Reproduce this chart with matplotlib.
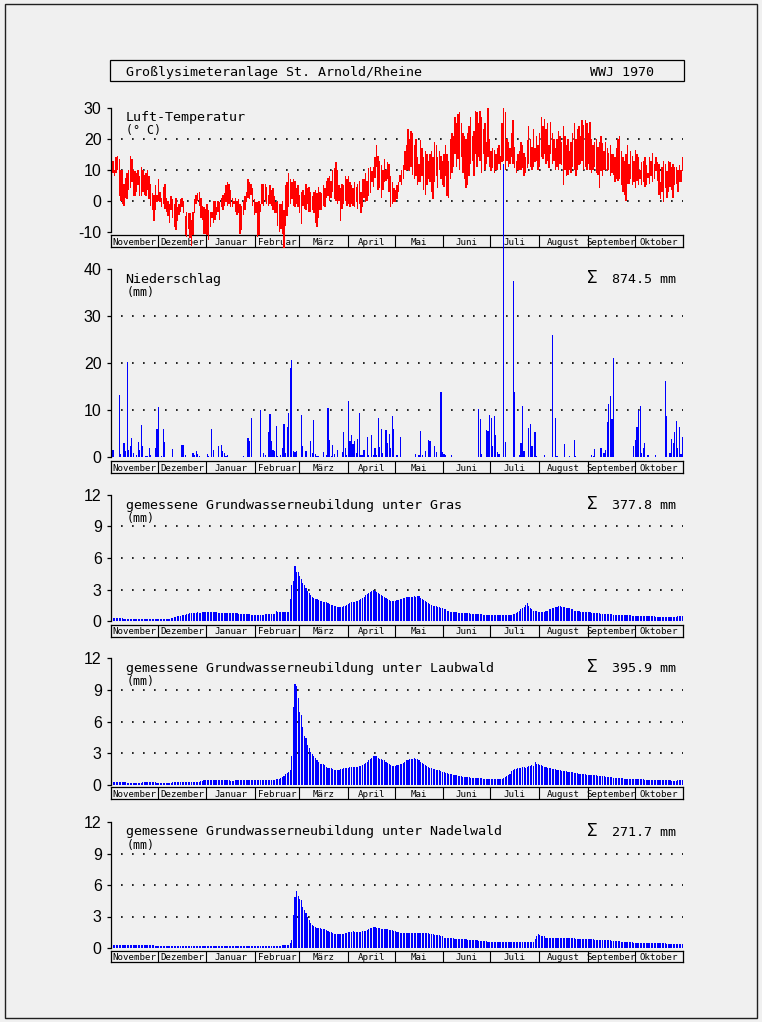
import matplotlib
matplotlib.use("Agg")
import matplotlib.pyplot as plt
from matplotlib.patches import Rectangle
from matplotlib import font_manager as fm
import numpy as np

# ---------------- data ----------------
months = ['November', 'Dezember', 'Januar', 'Februar', 'März', 'April',
          'Mai', 'Juni', 'Juli', 'August', 'September', 'Oktober']
month_days = [30, 31, 31, 28, 31, 30, 31, 30, 31, 31, 30, 31]

# daily max / min air temperature (deg C), 1 Nov 1969 .. 31 Oct 1970
tmax = [
    12.5, 13, 10, 14, 14.5, 13.5, 10, 10, 5.5, 7.5, 9, 10, 14.5, 13.5, 10, 9.5, 9, 10, 8, 11, 10, 8.5, 9, 10, 8, 5.5, 2.5, 2, 5, 2,
    7, 3, 1, 4.5, 5.5, 1, 0, -1, 1.5, 0.5, -1, 1, -2, -1, 0.5, 1, 0, -5, -3.5, -4, -4, -6, -3.5, 0.5, 2, 2.5, 3, 1, -1.5, -2, -2.5,
    -1, -3, -3.5, -3.5, 0, 0, -2, 0, -0.5, 1, 2, 2.5, 5, 6, 5.5, 3.5, 1, 0, 1, 0, 0.5, -1, -1.5, 0, 1.5, 3, 7, 6, 5.5, 4, 0.5,
    -0.5, -0.5, 0, -1, 5.5, 5.5, 5.5, 4.5, 2, 5, 3.5, 4, 1.5, -0.5, 0, -1, -1, 0, -3, 5, 6, 9, 7, 6, 7, 6.5, 4, 5,
    2, 3, 3.5, 2, 5.5, 4, 4.5, 3, 1.5, 3, 3.5, 2.5, 4.5, 3, 2.5, 5, 4, 6.5, 7.5, 8, 6.5, 10, 10.5, 12.5, 10, 5, 4, 5.5, 5, 8, 7,
    8, 6, 5, 4, 6, 4.5, 5.5, 6.5, 3, 7, 7, 9, 6.5, 10.5, 11, 9.5, 11, 14, 18, 14.5, 13, 11.5, 10, 13.5, 10, 12.5, 12, 8, 6, 4,
    3.5, 5, 6, 8.5, 10, 11.5, 16, 18, 23, 20, 22.5, 22, 18, 20, 14, 12, 19.5, 17, 14, 16, 15, 13, 15, 16, 14, 19, 18, 14, 16, 14.5, 13,
    15, 18, 15, 13, 20, 22, 21, 27, 25, 28, 28.5, 25, 22, 21, 20, 22, 24, 27, 21, 22.5, 29, 28.5, 25, 29, 27, 23, 25, 19, 30, 20,
    16, 17, 16.5, 15, 17, 18, 14.5, 25, 30, 28.5, 20, 19, 17, 22, 26, 17.5, 13, 15, 16, 19, 18, 15.5, 14, 19.5, 24, 20, 17.5, 23, 17, 21, 18,
    22, 27, 24, 26.5, 23, 25, 18, 25.5, 22, 20, 17, 20, 22.5, 21, 19, 24, 21, 18, 20, 16, 19, 22, 25, 20, 23, 24, 21, 26, 24.5, 26, 25,
    22, 25.5, 20, 18, 19, 20, 17.5, 19, 21, 18.5, 16, 19, 17, 15.5, 18, 15, 15, 14, 17, 20, 21, 16, 14, 13, 15, 18, 12, 16, 14.5, 13,
    16.5, 15, 14, 10, 12.5, 13, 14, 11.5, 9, 14, 13, 15.5, 12, 14, 12.5, 12, 6, 11, 13, 12, 9.5, 13, 12.5, 11, 12, 11, 11, 10, 11.5, 10, 14,
]
tmin = [
    8.5, 9, 8, 9, 10, 1.5, 0, -1, -1.5, 1, 0.5, 3.5, 4, 6, 1.5, 1.5, 3, 5, 1.5, 1.5, 3, 2, 1.5, 3.5, 0.5, -1.5, -3, -6.5, -3, -0.5,
    0, -0.5, -2, -1, -2.5, -3.5, -5, -7, -3, -5.5, -8.5, -9.5, -6.5, -4.5, -3.5, -2, -4, -11, -11.5, -9, -12, -14.5, -11, -4, -1, 0, -1.5, -5.5, -6, -10.5, -10.5,
    -11, -12.5, -8.5, -5.5, -7, -6, -4.5, -3.5, -6, -2, -3, -1.5, -0.5, -1.5, -1, -2, -2, -1, -3.5, -4.5, -4, -10.5, -9.5, -4.5, -3, -0.5, 1, 0.5, 2, -1.5, -4.5,
    -4, -11.5, -11, -3.5, -1, -1.5, 0, -1, -1.5, -1, -1.5, -3, -4, -4, -8, -10, -9, -10.5, -15, -8, -5, -2, -1, 0.5, -1.5, -2, -1, -2,
    -4, -7.5, -1.5, -2.5, -3, -1, -3.5, -3.5, -3, -4, -7, -8.5, -5.5, -3, -3, -1.5, -2, 1, 1.5, 0, 1, 3, 0.5, 0, -1, 0, -6.5, -2.5, -1, 0, -1.5,
    -1, -2, -1, -1.5, -2, -0.5, -2.5, -1, -4, -2, 1, -0.5, 0, 1.5, 2.5, 6, 4.5, 7.5, 11, 3.5, 4, 1, 3.5, 6, 6.5, 7, 3, -2, -1, -0.5,
    -0.5, 0.5, 3, 6, 5, 7, 10, 9.5, 10, 9.5, 11, 8.5, 7, 8, 5, 6, 6, 8, 3.5, 2, 5, 7, 6, 3, 0.5, 6, 8, 4, 10, 7, 5,
    4.5, 8, 1.5, 1, 7, 9, 11, 15, 11, 13.5, 10, 14, 9, 7, 4, 5, 8, 12, 13, 8, 15, 11, 14, 13, 9, 15, 10, 12, 14, 11,
    9.5, 10.5, 9, 10, 10, 12, 10, 12.5, 13, 10, 13, 11, 12, 14, 12, 10.5, 9, 10, 10, 10, 10.5, 8, 9, 10.5, 12, 11, 10, 11, 12.5, 13, 10,
    11, 14, 13.5, 15, 12, 13, 10.5, 15, 12, 13, 10, 11, 10, 12, 11.5, 5, 10, 8, 8.5, 10, 9, 11, 10, 8, 10, 11.5, 12, 13, 10, 11, 10,
    12, 10, 9, 10, 11, 9, 8.5, 4, 9.5, 8, 10, 10, 9.5, 10, 8, 9, 8.5, 6, 7, 6.5, 7, 5, 3, 2, 0, 5.5, 5.5, 7, 5, 6,
    4, 6.5, 5, 7, 5, 6, 4.5, 5, 7.5, 5.5, 8, 6, 7, 9.5, 6.5, 2, 0.5, 3, -0.5, 4, 1, 3, 4.5, 3.5, 1, 5, 5.5, 3, 6, 6, 9.5,
]

# precipitation: day index (0 = 1 Nov) and amount (mm), rain days only
precip_day = [
    1, 5, 6, 8, 9, 10, 11, 12, 13, 14, 16, 17, 18, 19, 20, 22, 23, 24, 25, 28, 29,
    30, 32, 33, 34, 39, 45, 46, 47, 52, 53, 54, 55, 56,
    61, 62, 64, 65, 68, 70, 71, 72, 73, 74, 84, 87, 88, 89,
    95, 97, 98, 100, 101, 102, 103, 104, 105, 106, 108, 109, 110, 111, 112, 113, 114, 115, 116, 117, 118,
    121, 122, 124, 127, 128, 129, 130, 131, 132, 135, 137, 138, 139, 140, 141, 142, 144, 147, 148, 149, 150,
    151, 152, 153, 154, 155, 156, 157, 158, 159, 160, 161, 163, 164, 166, 167, 168, 169, 170, 171, 172, 173, 175, 176, 177, 178, 179, 180,
    182, 184, 194, 196, 197, 198, 200, 202, 203, 206, 207, 210, 211,
    212, 213, 217, 234, 235, 236, 239, 240, 241,
    242, 243, 244, 245, 246, 247, 250, 251, 256, 257, 260, 261, 262, 263, 266, 267, 268, 270, 271,
    276, 281, 283, 284, 289, 292, 295, 296,
    306, 307, 308, 312, 314, 315, 316, 317, 318, 319, 320, 333,
    334, 335, 336, 337, 338, 339, 340, 342, 347, 353, 354, 356, 357, 358, 359, 360, 361, 362, 363, 364,
]
precip_mm = [
    1.6, 13.3, 0.7, 3.0, 1.3, 20.3, 1.6, 2.3, 4.0, 0.9, 0.4, 3.3, 1.6, 6.9, 2.4, 0.3, 0.2, 2.0, 0.5, 1.9, 6.0,
    10.7, 0.3, 6.0, 3.3, 1.7, 2.6, 2.6, 0.5, 1.0, 0.5, 1.3, 0.6, 0.35,
    0.7, 0.2, 6.0, 1.6, 2.4, 2.6, 1.4, 1.0, 0.35, 0.4, 0.3, 4.0, 3.5, 8.4,
    10.0, 0.9, 0.5, 5.4, 9.2, 3.5, 1.6, 1.4, 6.7, 0.3, 0.5, 2.0, 7.1, 0.9, 6.5, 9.5, 19.1, 20.7, 1.3, 1.1, 1.3,
    8.9, 2.4, 1.3, 3.5, 1.0, 7.9, 0.6, 0.35, 0.3, 1.1, 0.5, 10.5, 3.7, 0.3, 2.6, 0.7, 1.6, 1.1, 5.4, 2.0, 0.5,
    12.0, 3.5, 4.8, 2.8, 3.5, 1.0, 3.9, 9.4, 0.5, 0.5, 1.6, 4.3, 0.5, 4.8, 0.5, 2.0, 0.5, 8.4, 2.1, 6.0, 1.0, 5.8, 3.1, 5.0, 1.9, 8.8, 6.0,
    0.5, 4.3, 0.7, 0.5, 5.6, 0.5, 1.3, 3.7, 3.5, 2.4, 1.1, 13.9, 1.1,
    0.8, 0.4, 0.5, 10.3, 8.2, 0.7, 5.8, 5.6, 9.0,
    8.3, 2.4, 8.8, 4.8, 1.2, 0.6, 62.4, 3.3, 37.5, 13.9, 0.5, 3.0, 10.9, 1.3, 6.2, 7.1, 2.3, 5.4, 0.3,
    0.5, 26.0, 8.4, 0.3, 2.8, 0.3, 3.7, 0.2,
    0.5, 0.3, 1.8, 2.0, 1.0, 1.6, 7.5, 11.3, 13.0, 8.2, 21.1, 2.4,
    3.7, 6.5, 10.1, 10.9, 1.0, 2.0, 3.0, 0.5, 0.5, 16.2, 8.8, 0.9, 3.9, 3.0, 5.4, 7.7, 2.0, 6.5, 0.7, 4.3,
]

# measured daily groundwater recharge (mm)
gw_gras = [
    0.3, 0.3, 0.3, 0.3, 0.3, 0.3, 0.3, 0.3, 0.2, 0.2, 0.2, 0.2, 0.2, 0.2, 0.2, 0.2, 0.2, 0.2, 0.2, 0.2, 0.2, 0.2, 0.2, 0.2, 0.2, 0.2, 0.2, 0.2, 0.2, 0.2,
    0.2, 0.2, 0.2, 0.2, 0.2, 0.2, 0.2, 0.2, 0.25, 0.3, 0.35, 0.4, 0.45, 0.5, 0.5, 0.55, 0.6, 0.6, 0.65, 0.7, 0.75, 0.75, 0.8, 0.8, 0.8, 0.85, 0.8, 0.8, 0.85, 0.85, 0.9,
    0.9, 0.9, 0.9, 0.9, 0.9, 0.85, 0.85, 0.8, 0.8, 0.8, 0.8, 0.8, 0.8, 0.8, 0.8, 0.8, 0.75, 0.75, 0.75, 0.75, 0.7, 0.7, 0.7, 0.7, 0.7, 0.7, 0.65, 0.65, 0.6, 0.6, 0.6,
    0.6, 0.6, 0.6, 0.6, 0.6, 0.6, 0.65, 0.65, 0.65, 0.7, 0.7, 0.7, 0.7, 1.0, 0.9, 0.9, 0.85, 0.85, 0.85, 0.9, 0.9, 0.9, 2.1, 3.4, 3.8, 5.2, 4.7, 4.7,
    4.3, 4.0, 3.6, 3.4, 3.1, 2.9, 2.7, 2.5, 2.3, 2.2, 2.1, 2.1, 2.0, 1.9, 1.9, 1.8, 1.8, 1.8, 1.7, 1.6, 1.5, 1.5, 1.4, 1.4, 1.3, 1.3, 1.3, 1.3, 1.4, 1.4, 1.5,
    1.6, 1.7, 1.8, 1.8, 1.8, 1.9, 1.9, 2.0, 2.1, 2.2, 2.3, 2.5, 2.6, 2.7, 2.8, 2.9, 3.0, 2.9, 2.8, 2.7, 2.6, 2.5, 2.4, 2.3, 2.2, 2.1, 2.0, 1.9, 1.9, 1.9,
    1.9, 2.0, 2.0, 2.1, 2.1, 2.2, 2.2, 2.3, 2.3, 2.3, 2.3, 2.3, 2.4, 2.3, 2.4, 2.4, 2.2, 2.1, 2.0, 1.9, 1.8, 1.7, 1.6, 1.5, 1.4, 1.4, 1.4, 1.3, 1.3, 1.2, 1.2,
    1.1, 1.1, 1.0, 1.0, 0.9, 0.9, 0.9, 0.85, 0.85, 0.8, 0.8, 0.8, 0.8, 0.8, 0.75, 0.75, 0.75, 0.7, 0.7, 0.7, 0.7, 0.7, 0.65, 0.65, 0.65, 0.6, 0.6, 0.6, 0.6, 0.6,
    0.6, 0.6, 0.6, 0.55, 0.55, 0.55, 0.55, 0.6, 0.6, 0.6, 0.6, 0.6, 0.6, 0.6, 0.65, 0.7, 0.8, 0.9, 1.0, 1.1, 1.2, 1.3, 1.5, 1.7, 1.4, 1.2, 1.1, 1.0, 1.0, 1.0, 0.9,
    0.9, 0.9, 0.9, 0.9, 1.0, 1.0, 1.1, 1.1, 1.2, 1.2, 1.3, 1.3, 1.4, 1.4, 1.3, 1.3, 1.3, 1.2, 1.2, 1.2, 1.1, 1.1, 1.0, 1.0, 1.0, 1.0, 0.9, 0.9, 0.9, 0.9, 0.9,
    0.85, 0.85, 0.8, 0.8, 0.8, 0.8, 0.75, 0.75, 0.7, 0.7, 0.7, 0.7, 0.7, 0.65, 0.65, 0.65, 0.6, 0.6, 0.6, 0.6, 0.6, 0.6, 0.6, 0.55, 0.55, 0.55, 0.55, 0.55, 0.5, 0.5,
    0.5, 0.5, 0.5, 0.5, 0.5, 0.5, 0.45, 0.45, 0.45, 0.45, 0.45, 0.45, 0.45, 0.4, 0.4, 0.4, 0.4, 0.4, 0.4, 0.4, 0.4, 0.4, 0.35, 0.35, 0.35, 0.4, 0.4, 0.45, 0.45, 0.45, 0.5,
]
gw_laub = [
    0.25, 0.25, 0.25, 0.25, 0.25, 0.25, 0.25, 0.25, 0.25, 0.25, 0.15, 0.15, 0.15, 0.15, 0.15, 0.15, 0.15, 0.15, 0.15, 0.15, 0.25, 0.25, 0.25, 0.25, 0.25, 0.25, 0.25, 0.25, 0.25, 0.2,
    0.15, 0.15, 0.15, 0.15, 0.15, 0.15, 0.15, 0.15, 0.15, 0.25, 0.25, 0.25, 0.25, 0.25, 0.25, 0.25, 0.3, 0.3, 0.3, 0.3, 0.3, 0.3, 0.3, 0.3, 0.3, 0.3, 0.3, 0.35, 0.35, 0.4, 0.4,
    0.4, 0.45, 0.45, 0.45, 0.45, 0.45, 0.45, 0.45, 0.45, 0.4, 0.4, 0.4, 0.4, 0.4, 0.4, 0.35, 0.35, 0.35, 0.4, 0.4, 0.45, 0.45, 0.45, 0.45, 0.45, 0.45, 0.45, 0.45, 0.45, 0.45, 0.45,
    0.45, 0.45, 0.45, 0.45, 0.45, 0.45, 0.45, 0.45, 0.45, 0.45, 0.45, 0.45, 0.45, 0.5, 0.5, 0.55, 0.6, 0.7, 0.8, 1.0, 1.1, 1.2, 1.4, 2.7, 7.4, 9.6, 9.4, 8.2,
    6.9, 6.6, 5.5, 4.6, 4.4, 3.8, 3.5, 3.1, 2.9, 2.7, 2.5, 2.3, 2.2, 2.0, 2.0, 2.0, 1.9, 1.7, 1.6, 1.6, 1.6, 1.5, 1.4, 1.4, 1.4, 1.4, 1.5, 1.5, 1.6, 1.6, 1.6,
    1.6, 1.7, 1.7, 1.7, 1.7, 1.7, 1.7, 1.8, 1.8, 1.9, 2.0, 2.1, 2.2, 2.3, 2.4, 2.5, 2.7, 2.7, 2.7, 2.5, 2.4, 2.4, 2.3, 2.3, 2.2, 2.1, 2.0, 1.9, 1.8, 1.8,
    1.8, 1.9, 1.9, 2.0, 2.0, 2.1, 2.2, 2.3, 2.3, 2.4, 2.4, 2.4, 2.5, 2.4, 2.4, 2.3, 2.2, 2.1, 2.0, 1.9, 1.8, 1.7, 1.6, 1.6, 1.5, 1.5, 1.4, 1.4, 1.4, 1.3, 1.2,
    1.2, 1.1, 1.1, 1.0, 1.0, 1.0, 0.9, 0.9, 0.9, 0.8, 0.8, 0.8, 0.75, 0.75, 0.7, 0.7, 0.7, 0.65, 0.65, 0.6, 0.6, 0.6, 0.6, 0.6, 0.6, 0.55, 0.55, 0.55, 0.55, 0.55,
    0.55, 0.5, 0.5, 0.5, 0.5, 0.5, 0.5, 0.5, 0.6, 0.7, 0.8, 0.9, 1.0, 1.3, 1.4, 1.5, 1.5, 1.6, 1.6, 1.6, 1.7, 1.7, 1.6, 1.7, 1.8, 1.8, 1.9, 1.8, 2.2, 2.0, 2.0,
    1.9, 1.9, 1.8, 1.7, 1.7, 1.6, 1.6, 1.6, 1.5, 1.5, 1.5, 1.4, 1.4, 1.4, 1.3, 1.3, 1.3, 1.3, 1.2, 1.2, 1.2, 1.2, 1.1, 1.1, 1.1, 1.0, 1.0, 1.0, 1.0, 1.0, 0.95,
    0.95, 0.9, 0.9, 0.9, 0.9, 0.9, 0.85, 0.85, 0.8, 0.8, 0.8, 0.75, 0.75, 0.7, 0.7, 0.7, 0.65, 0.65, 0.65, 0.6, 0.6, 0.6, 0.6, 0.55, 0.55, 0.55, 0.55, 0.55, 0.5, 0.5,
    0.5, 0.5, 0.5, 0.5, 0.5, 0.5, 0.45, 0.45, 0.45, 0.45, 0.45, 0.45, 0.45, 0.45, 0.45, 0.45, 0.45, 0.45, 0.45, 0.45, 0.4, 0.4, 0.4, 0.35, 0.35, 0.35, 0.35, 0.4, 0.4, 0.4, 0.4,
]
gw_nadel = [
    0.25, 0.25, 0.25, 0.25, 0.25, 0.25, 0.25, 0.25, 0.25, 0.25, 0.25, 0.25, 0.25, 0.25, 0.25, 0.25, 0.25, 0.25, 0.25, 0.25, 0.25, 0.25, 0.25, 0.25, 0.25, 0.25, 0.25, 0.25, 0.2, 0.2,
    0.15, 0.15, 0.15, 0.15, 0.15, 0.15, 0.15, 0.15, 0.15, 0.15, 0.15, 0.15, 0.15, 0.15, 0.15, 0.15, 0.15, 0.15, 0.15, 0.15, 0.15, 0.15, 0.15, 0.15, 0.15, 0.15, 0.15, 0.15, 0.15, 0.15, 0.15,
    0.15, 0.15, 0.15, 0.15, 0.15, 0.15, 0.15, 0.15, 0.15, 0.15, 0.15, 0.15, 0.15, 0.15, 0.15, 0.15, 0.15, 0.15, 0.15, 0.15, 0.15, 0.15, 0.15, 0.15, 0.15, 0.15, 0.15, 0.15, 0.15, 0.15, 0.15,
    0.15, 0.15, 0.15, 0.15, 0.15, 0.15, 0.15, 0.15, 0.15, 0.15, 0.15, 0.15, 0.15, 0.15, 0.15, 0.15, 0.15, 0.3, 0.3, 0.3, 0.3, 0.3, 0.5, 0.8, 3.1, 4.9, 5.4, 5.0,
    4.7, 4.6, 3.9, 3.6, 3.3, 3.0, 2.7, 2.4, 2.2, 2.1, 2.0, 1.9, 1.9, 1.9, 1.8, 1.8, 1.8, 1.7, 1.6, 1.5, 1.5, 1.4, 1.3, 1.3, 1.3, 1.3, 1.3, 1.3, 1.3, 1.4, 1.4,
    1.5, 1.5, 1.5, 1.6, 1.5, 1.5, 1.5, 1.5, 1.5, 1.6, 1.6, 1.6, 1.7, 1.8, 1.9, 1.9, 2.0, 2.0, 1.9, 1.9, 1.9, 1.8, 1.8, 1.8, 1.8, 1.8, 1.7, 1.7, 1.7, 1.6,
    1.6, 1.5, 1.5, 1.4, 1.4, 1.4, 1.4, 1.4, 1.4, 1.4, 1.4, 1.4, 1.4, 1.4, 1.4, 1.4, 1.4, 1.4, 1.4, 1.4, 1.4, 1.4, 1.3, 1.3, 1.3, 1.2, 1.2, 1.2, 1.2, 1.1, 1.1,
    1.0, 1.0, 1.0, 1.0, 1.0, 0.95, 0.95, 0.9, 0.9, 0.9, 0.9, 0.9, 0.85, 0.85, 0.85, 0.8, 0.8, 0.8, 0.8, 0.75, 0.75, 0.75, 0.7, 0.7, 0.7, 0.65, 0.65, 0.65, 0.6, 0.6,
    0.6, 0.6, 0.55, 0.55, 0.55, 0.55, 0.55, 0.55, 0.6, 0.6, 0.6, 0.6, 0.6, 0.6, 0.6, 0.6, 0.6, 0.6, 0.6, 0.6, 0.6, 0.6, 0.6, 0.6, 0.6, 0.6, 0.6, 0.6, 0.9, 1.1, 1.3,
    1.2, 1.1, 1.1, 1.1, 1.0, 1.0, 1.0, 1.0, 1.0, 1.0, 1.0, 1.0, 1.0, 1.0, 1.0, 1.0, 1.0, 0.95, 0.95, 0.95, 0.95, 0.95, 0.95, 0.9, 0.9, 0.9, 0.9, 0.9, 0.9, 0.9, 0.85,
    0.85, 0.85, 0.85, 0.85, 0.8, 0.8, 0.8, 0.8, 0.8, 0.8, 0.75, 0.75, 0.75, 0.75, 0.75, 0.7, 0.7, 0.7, 0.7, 0.65, 0.65, 0.6, 0.6, 0.6, 0.6, 0.55, 0.55, 0.55, 0.55, 0.5,
    0.5, 0.5, 0.5, 0.5, 0.5, 0.5, 0.5, 0.5, 0.45, 0.45, 0.45, 0.45, 0.45, 0.45, 0.45, 0.45, 0.45, 0.45, 0.45, 0.45, 0.4, 0.4, 0.4, 0.4, 0.4, 0.4, 0.4, 0.4, 0.4, 0.4, 0.4,
]

sum_labels = ['874.5 mm', '377.8 mm', '395.9 mm', '271.7 mm']
gw_titles = ['gemessene Grundwasserneubildung unter Gras',
             'gemessene Grundwasserneubildung unter Laubwald',
             'gemessene Grundwasserneubildung unter Nadelwald']

# ---------------- figure ----------------
W, H = 762, 1022
BG = '#f0f0f0'
RED = '#ff0000'
BLUE = '#0000ff'
MONO = 'DejaVu Sans Mono'

_installed = {f.name for f in fm.fontManager.ttflist}
NARROW = 'DejaVu Sans'
for _cand in ['Liberation Sans Narrow', 'DejaVu Sans Condensed', 'Liberation Sans']:
    if _cand in _installed:
        NARROW = _cand
        break

fig = plt.figure(figsize=(W / 100, H / 100), dpi=100, facecolor=BG)
X0, X1 = 110.7, 683.3
NDAYS = sum(month_days)


def add_ax(ytop, ybot, z):
    ax = fig.add_axes([X0 / W, 1 - ybot / H, (X1 - X0) / W, (ybot - ytop) / H])
    ax.set_zorder(z)
    ax.patch.set_alpha(0)
    return ax


def ftext(x, y, s, size=9.6, family=MONO, **kw):
    fig.text(x / W, 1 - y / H, s, fontsize=size, family=family, va='baseline', ha='left', **kw)


def month_box(ytop, ybot, z):
    ax = add_ax(ytop, ybot, z)
    ax.set_xlim(0, NDAYS)
    ax.set_ylim(0, 1)
    ax.set_xticks([])
    ax.set_yticks([])
    for s in ax.spines.values():
        s.set_linewidth(0.9)
        s.set_color('black')
    edges = np.cumsum([0] + month_days)
    for e in edges[1:-1]:
        ax.axvline(e, color='black', lw=0.8)
    for i, m in enumerate(months):
        ax.text((edges[i] + edges[i + 1]) / 2, 0.42, m, ha='center', va='center',
                fontsize=6.6, family=MONO)
    return ax


def panel(ytop, ybot, ylim, yticks, ylabels, grid, z):
    ax = add_ax(ytop, ybot, z)
    ax.set_xlim(0, NDAYS)
    ax.set_ylim(*ylim)
    for k in ['top', 'right', 'bottom']:
        ax.spines[k].set_visible(False)
    ax.spines['left'].set_linewidth(0.9)
    ax.set_xticks([])
    ax.set_yticks(yticks)
    ax.set_yticklabels(ylabels, family=NARROW, fontsize=11.5)
    ax.tick_params(axis='y', length=3, width=0.9, pad=3.5)
    for g in grid:
        ax.plot([6.6, NDAYS], [g, g], color='black', lw=1.2,
                ls=(0, (1, 5.6)), zorder=0.5, solid_capstyle='butt')
    return ax


days = np.arange(NDAYS) + 0.5

# outer frame and title box
fig.patches.append(Rectangle((4.5 / W, 1 - 1017.5 / H), 752.5 / W, 1013 / H,
                             transform=fig.transFigure, fill=False, lw=1.0, ec='#202020'))
fig.patches.append(Rectangle((110.0 / W, 1 - 81 / H), (683.5 - 110.0) / W, 21 / H,
                             transform=fig.transFigure, fill=False, lw=0.9, ec='black'))
ftext(125.5, 76, 'Großlysimeteranlage St. Arnold/Rheine')
ftext(590, 76, 'WWJ 1970')

# ---- temperature ----
month_box(235, 247.3, 1)
ax_t = panel(107.7, 232, (-10, 30), [-10, 0, 10, 20, 30],
             ['-10', '0', '10', '20', '30'], [0, 10, 20], 2)
tmx = np.array(tmax)
tmn = np.array(tmin)
ax_t.bar(days, tmx - tmn, bottom=tmn, width=0.9, color=RED, lw=0, clip_on=False,
         zorder=2, antialiased=False)
ftext(125.5, 120.5, 'Luft-Temperatur')
ftext(126.5, 133.5, '(° C)', size=8.4)

# ---- precipitation ----
month_box(461, 473.3, 3)
ax_p = panel(269.3, 457.3, (0, 40), [0, 10, 20, 30, 40],
             ['0', '10', '20', '30', '40'], [10, 20, 30], 4)
ax_p.bar(np.array(precip_day) + 0.5, precip_mm, width=0.75, color=BLUE, lw=0,
         clip_on=False, zorder=2, antialiased=False)
ftext(125.5, 283.3, 'Niederschlag')
ftext(126.5, 296, '(mm)', size=8.4)
ftext(587.5, 283.3, 'Σ', size=12.5)
ftext(611.5, 283.3, sum_labels[0])

# ---- groundwater recharge panels ----
gw_series = [gw_gras, gw_laub, gw_nadel]
gw_geom = [(495, 621, 625, 636.7), (658.3, 784.7, 786.7, 799.3), (822, 948, 951, 962)]
for i, (vals, (yt, yb, bt, bb)) in enumerate(zip(gw_series, gw_geom)):
    month_box(bt, bb, 5 + 2 * i)
    ax = panel(yt, yb, (0, 12), [0, 3, 6, 9, 12], ['0', '3', '6', '9', '12'],
               [3, 6, 9], 6 + 2 * i)
    ax.bar(days, vals, width=0.7, color=BLUE, lw=0, zorder=2, antialiased=False)
    ftext(125.5, yt + 13.5, gw_titles[i])
    ftext(126.5, yt + 27, '(mm)', size=8.4)
    ftext(587.5, yt + 13.5, 'Σ', size=12.5)
    ftext(611.5, yt + 13.5, sum_labels[i + 1])

fig.savefig('out.png', dpi=100, facecolor=BG)
